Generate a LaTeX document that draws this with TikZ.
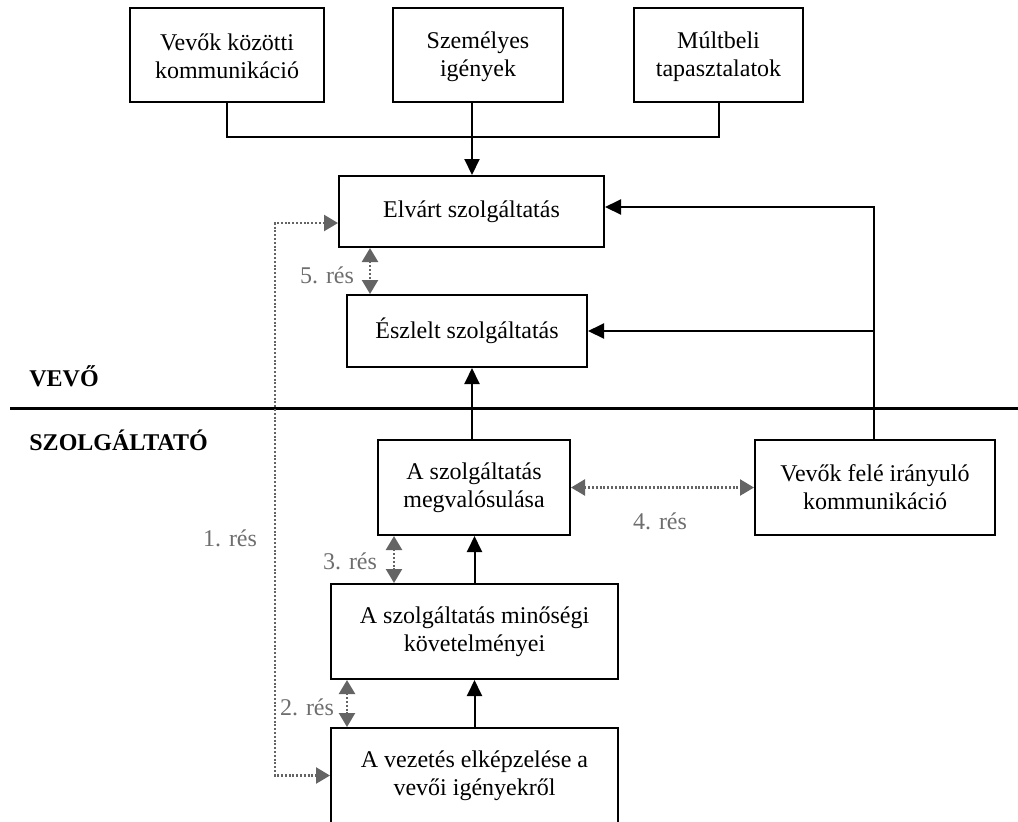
\documentclass[tikz,border=0pt]{standalone}
\usepackage{fontspec}
\setmainfont{Liberation Serif}
\usetikzlibrary{arrows.meta}
\definecolor{gapgray}{RGB}{100,100,100}
\definecolor{labgray}{RGB}{110,110,110}
\tikzset{
  box/.style={draw, line width=1pt, align=center, inner sep=0pt,
    font=\fontsize{12}{14}\selectfont},
  arr/.style={line width=1pt, -{Triangle[length=8pt,width=7.5pt]}},
  plain/.style={line width=1pt},
  gaparr/.style={gapgray, line width=1.2pt, dash pattern=on 1pt off 0.9pt,
    {Triangle[length=7pt,width=8pt]}-{Triangle[length=7pt,width=8pt]}},
  gaplab/.style={text=labgray, font=\fontsize{12}{14}\selectfont, inner sep=0pt},
  side/.style={font=\fontsize{12}{14}\selectfont\bfseries, inner sep=0pt, anchor=west}
}
\begin{document}
\begin{tikzpicture}[x=0.5pt,y=-0.5pt]
\useasboundingbox (0,0) rectangle (1018,821);
\clip (0,0) rectangle (1018,821);
% top boxes
\node[box, minimum width=97pt, minimum height=47pt] (b1) at (227,55) {\strut Vevők közötti\\kommunikáció};
\node[box, minimum width=85pt, minimum height=47pt] (b2) at (478,55) {\strut Személyes\\igények};
\node[box, minimum width=84.5pt, minimum height=47pt] (b3) at (718.5,55) {\strut Múltbeli\\tapasztalatok};
% customer side
\node[box, minimum width=132.5pt, minimum height=35.5pt] (elv) at (471.5,211.5) {Elvárt szolgáltatás};
\node[box, minimum width=120pt, minimum height=36pt] (esz) at (467,331) {Észlelt szolgáltatás};
% provider side
\node[box, minimum width=96pt, minimum height=47.5pt] (megv) at (474,487.5) {A szolgáltatás\\megvalósulása};
\node[box, minimum width=120pt, minimum height=47.5pt] (vf) at (875,487.5) {Vevők felé irányuló\\kommunikáció};
\node[box, minimum width=143.5pt, minimum height=47.5pt] (min) at (474.5,631.5) {A szolgáltatás minőségi\\követelményei};
\node[box, minimum width=143.5pt, minimum height=47.5pt] (vez) at (474.5,775.5) {A vezetés elképzelése a\\vevői igényekről};
% side labels and separator
\node[side] (vevo) at (29,376) {VEVŐ};
\node[side] (szolg) at (29,440) {SZOLGÁLTATÓ};
\coordinate (sepL) at (10,408);
\coordinate (sepR) at (1018,408);
\draw[line width=1.5pt] (sepL) -- (sepR);
% input bracket
\coordinate (j) at (472,137);
\draw[plain] (b1.south) |- (j) -| (b3.south);
\draw[plain] (j |- b2.south) -- (j);
\draw[arr] (j) -- (j |- elv.north);
% feedback from external communication
\coordinate (r1) at (874,207);
\draw[arr] (vf.north -| r1) |- (elv.east |- r1);
\draw[arr] (r1 |- esz.east) -- (esz.east);
% internal flow
\coordinate (c) at (472,0);
\draw[arr] (c |- megv.north) -- (c |- esz.south);
\draw[arr] (min.north) -- (megv.south -| min.north);
\draw[arr] (vez.north) -- (min.south);
% gaps
\coordinate (g5) at (370,0);
\draw[gaparr] (g5 |- elv.south) -- (g5 |- esz.north);
\node[gaplab] (l5) at (327,275) {5. rés};
\draw[gaparr] (megv.east) -- (vf.west);
\node[gaplab] (l4) at (660,521) {4. rés};
\coordinate (g3) at (394,0);
\draw[gaparr] (g3 |- megv.south) -- (g3 |- min.north);
\node[gaplab] (l3) at (350,561) {3. rés};
\coordinate (g2) at (347,0);
\draw[gaparr] (g2 |- min.south) -- (g2 |- vez.north);
\node[gaplab] (l2) at (307,707) {2. rés};
\coordinate (g1) at (275,223);
\draw[gaparr] (g1 -| elv.west) -- (g1) |- (vez.west);
\node[gaplab] (l1) at (230,538) {1. rés};
\end{tikzpicture}
\end{document}
